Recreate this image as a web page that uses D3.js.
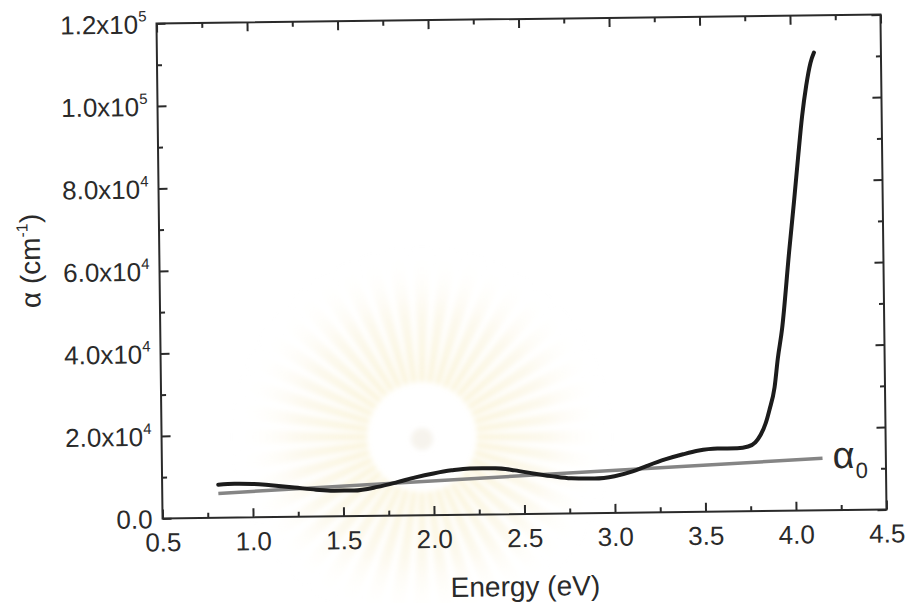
<!DOCTYPE html>
<html>
<head>
<meta charset="utf-8">
<script src="https://cdn.jsdelivr.net/npm/d3@7"></script>
<style>
  body { margin: 0; background: #fff; }
  svg { display: block; }
  text { font-family: "Liberation Sans", Arial, sans-serif; fill: #2a2a2a; }
</style>
</head>
<body>
<script>
// absorption coefficient
var energy = [0.81, 0.90, 1.00, 1.10, 1.23, 1.35, 1.45, 1.56, 1.69, 1.80, 1.90, 2.00, 2.10, 2.20,
              2.34, 2.45, 2.55, 2.65, 2.76, 2.89, 3.00, 3.10, 3.18, 3.28, 3.38, 3.46, 3.57, 3.68,
              3.74, 3.78, 3.81, 3.84, 3.86, 3.89, 3.91, 3.935, 3.98, 4.01, 4.035, 4.06, 4.085, 4.11, 4.13];
var alpha  = [8.0e3, 8.2e3, 8.1e3, 7.7e3, 7.1e3, 6.5e3, 6.2e3, 6.2e3, 7.0e3, 8.1e3, 9.2e3, 10.1e3, 10.8e3, 11.2e3,
              11.2e3, 10.6e3, 9.8e3, 9.1e3, 8.5e3, 8.4e3, 8.9e3, 10.0e3, 11.3e3, 12.8e3, 14.0e3, 14.8e3, 15.3e3, 15.3e3,
              15.7e3, 16.7e3, 18.5e3, 21.5e3, 24.5e3, 30e3, 37e3, 44e3, 63e3, 75e3, 85.5e3, 95.5e3, 103e3, 108.5e3, 111e3];
// straight background line alpha_0
var alpha0Energy = [0.81, 4.15];
var alpha0Value  = [5.9e3, 12.6e3];

var xTicks = [0.5, 1.0, 1.5, 2.0, 2.5, 3.0, 3.5, 4.0, 4.5];
var xMinor = [0.75, 1.25, 1.75, 2.25, 2.75, 3.25, 3.75, 4.25];
var yTicks = [0, 2e4, 4e4, 6e4, 8e4, 1e5, 1.2e5];
var yMinor = [1e4, 3e4, 5e4, 7e4, 9e4, 1.1e5];

(function () {
var width = 909, height = 603;
var pLeft = 159.5, pRight = 883.5, pTop = 19, pBottom = 514;

var svg = d3.select("body").append("svg")
    .attr("width", width)
    .attr("height", height);

// faint watermark behind the plot
var defs = svg.append("defs");
var grad = defs.append("radialGradient")
    .attr("id", "rays").attr("gradientUnits", "userSpaceOnUse")
    .attr("cx", 0).attr("cy", 0).attr("r", 190);
grad.append("stop").attr("offset", "0.28").attr("stop-color", "#f3e2a0").attr("stop-opacity", 0.42);
grad.append("stop").attr("offset", "0.65").attr("stop-color", "#f6ecc6").attr("stop-opacity", 0.3);
grad.append("stop").attr("offset", "1").attr("stop-color", "#ffffff").attr("stop-opacity", 0);
defs.append("filter").attr("id", "soft")
    .append("feGaussianBlur").attr("stdDeviation", 2.5);

var wm = svg.append("g").attr("transform", "translate(422,437)").attr("filter", "url(#soft)");
var rayArc = d3.arc().innerRadius(55).outerRadius(190);
d3.range(44).forEach(function (i) {
    var a = i * 2 * Math.PI / 44;
    wm.append("path")
      .attr("d", rayArc({startAngle: a - 0.045, endAngle: a + 0.045}))
      .attr("fill", "url(#rays)");
});
wm.append("circle").attr("cx", 0).attr("cy", 2).attr("r", 11).attr("fill", "#ebe5d8").attr("opacity", 0.45);

var g = svg.append("g")
    .attr("transform", "rotate(-0.7," + ((pLeft + pRight) / 2) + "," + ((pTop + pBottom) / 2) + ")");

var x = d3.scaleLinear().domain([0.5, 4.5]).range([pLeft, pRight]);
var y = d3.scaleLinear().domain([0, 1.2e5]).range([pBottom, pTop]);

function tidy(sel) {
    sel.select(".domain").remove();
    sel.selectAll(".tick line").attr("stroke", "#2a2a2a").attr("stroke-width", 2);
}

// major and minor ticks on all four sides, pointing inward
g.append("g").attr("transform", "translate(0," + pBottom + ")")
  .call(d3.axisBottom(x).tickValues(xTicks).tickSizeInner(-9).tickSizeOuter(0).tickPadding(0).tickFormat(d3.format(".1f")))
  .call(tidy)
  .call(function (s) {
      s.selectAll(".tick text").attr("y", 33).attr("dy", 0)
       .attr("font-size", 26).attr("fill", "#2a2a2a")
       .attr("font-family", "Liberation Sans, Arial, sans-serif");
  });
g.append("g").attr("transform", "translate(0," + pBottom + ")")
  .call(d3.axisBottom(x).tickValues(xMinor).tickSizeInner(-5).tickSizeOuter(0).tickFormat(""))
  .call(tidy);
g.append("g").attr("transform", "translate(0," + pTop + ")")
  .call(d3.axisTop(x).tickValues(xTicks).tickSizeInner(-9).tickSizeOuter(0).tickFormat(""))
  .call(tidy);
g.append("g").attr("transform", "translate(0," + pTop + ")")
  .call(d3.axisTop(x).tickValues(xMinor).tickSizeInner(-5).tickSizeOuter(0).tickFormat(""))
  .call(tidy);

var yAxis = g.append("g").attr("transform", "translate(" + pLeft + ",0)")
  .call(d3.axisLeft(y).tickValues(yTicks).tickSizeInner(-9).tickSizeOuter(0).tickPadding(10))
  .call(tidy);
g.append("g").attr("transform", "translate(" + pLeft + ",0)")
  .call(d3.axisLeft(y).tickValues(yMinor).tickSizeInner(-5).tickSizeOuter(0).tickFormat(""))
  .call(tidy);
g.append("g").attr("transform", "translate(" + pRight + ",0)")
  .call(d3.axisRight(y).tickValues(yTicks).tickSizeInner(-9).tickSizeOuter(0).tickFormat(""))
  .call(tidy);
g.append("g").attr("transform", "translate(" + pRight + ",0)")
  .call(d3.axisRight(y).tickValues(yMinor).tickSizeInner(-5).tickSizeOuter(0).tickFormat(""))
  .call(tidy);

// y labels like 2.0x10^4
yAxis.selectAll(".tick text")
    .attr("font-size", 26).attr("fill", "#2a2a2a").attr("dy", "0.36em")
    .attr("font-family", "Liberation Sans, Arial, sans-serif")
    .each(function (d) {
        var t = d3.select(this).text(null);
        if (d === 0) { t.text("0.0"); return; }
        var e = Math.floor(Math.log10(d));
        t.append("tspan").text((d / Math.pow(10, e)).toFixed(1) + "x10");
        t.append("tspan").attr("font-size", 15).attr("dy", -12).text(e);
    });

// frame
g.append("rect")
  .attr("x", pLeft).attr("y", pTop)
  .attr("width", pRight - pLeft).attr("height", pBottom - pTop)
  .attr("fill", "none").attr("stroke", "#2a2a2a").attr("stroke-width", 2);

// alpha_0 line
g.append("path")
  .datum(d3.zip(alpha0Energy, alpha0Value))
  .attr("fill", "none").attr("stroke", "#858585").attr("stroke-width", 3.5)
  .attr("d", d3.line().x(function (d) { return x(d[0]); }).y(function (d) { return y(d[1]); }));

// measured curve
g.append("path")
  .datum(d3.zip(energy, alpha))
  .attr("fill", "none").attr("stroke", "#1c1c1c").attr("stroke-width", 4)
  .attr("stroke-linejoin", "round").attr("stroke-linecap", "round")
  .attr("d", d3.line().curve(d3.curveMonotoneX)
      .x(function (d) { return x(d[0]); }).y(function (d) { return y(d[1]); }));

// alpha_0 label
var a0 = g.append("text")
  .attr("x", x(alpha0Energy[1]) + 10).attr("y", y(alpha0Value[1]) + 10)
  .attr("font-size", 38);
a0.append("tspan").text("\u03b1");
a0.append("tspan").attr("font-size", 22).attr("dy", 10).attr("dx", 1).text("0");

// axis titles
g.append("text")
  .attr("x", (pLeft + pRight) / 2).attr("y", pBottom + 82)
  .attr("text-anchor", "middle").attr("font-size", 28)
  .text("Energy (eV)");

var yt = g.append("text")
  .attr("transform", "translate(40,255) rotate(-90)")
  .attr("text-anchor", "middle").attr("font-size", 28);
yt.append("tspan").text("\u03b1 (cm");
yt.append("tspan").attr("font-size", 16).attr("dy", -12).text("-1");
yt.append("tspan").attr("dy", 12).text(")");
})();
</script>
</body>
</html>
